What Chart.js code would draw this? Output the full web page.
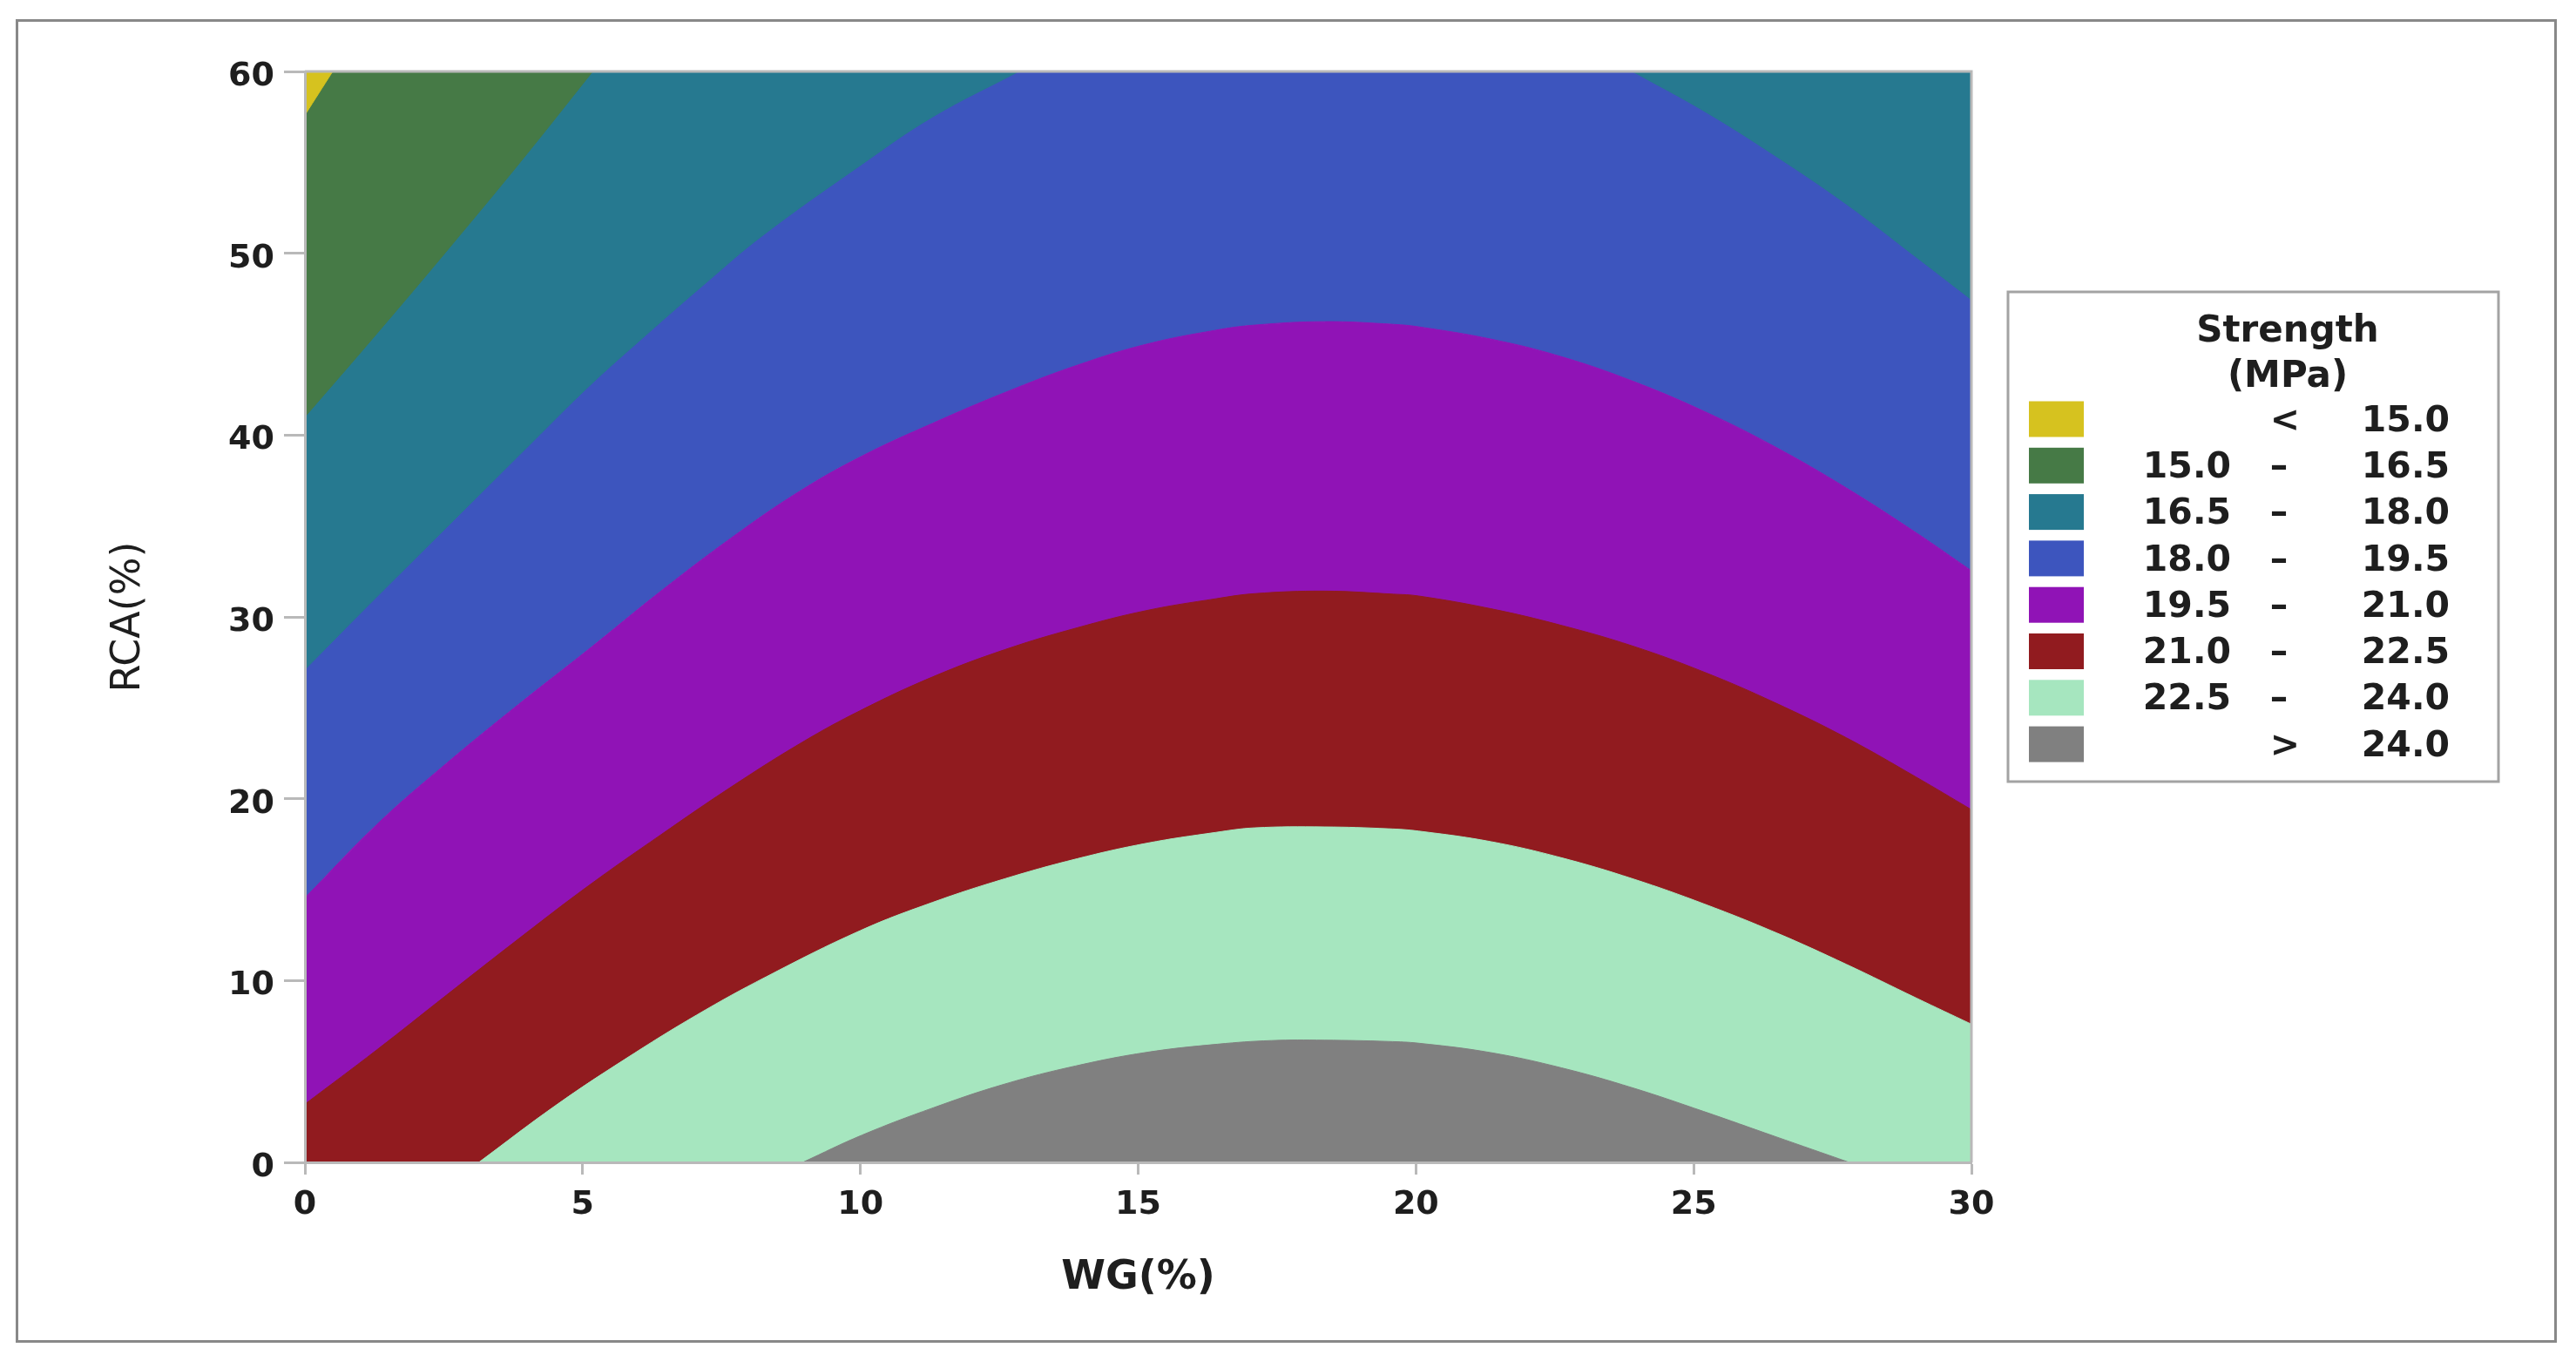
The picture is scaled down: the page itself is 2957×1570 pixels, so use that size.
<!DOCTYPE html>
<html>
<head>
<meta charset="utf-8">
<title>Strength (MPa) - WG / RCA</title>
<script src="https://cdn.jsdelivr.net/npm/chart.js@4.4.1/dist/chart.umd.min.js"></script>
<style>
  html, body { margin: 0; padding: 0; background: #fff; }
  #wrap { position: relative; width: 2957px; height: 1570px; }
  #frame { position: absolute; left: 18px; top: 22px; width: 2917px; height: 1519px;
           box-sizing: border-box; border: 3px solid #888; pointer-events: none; }
</style>
</head>
<body>
<div id="wrap">
  <canvas id="chartContorno"></canvas>
  <div id="frame"></div>
</div>
<script>
// niveles de contorno (MPa) y colores de cada zona, de menor a mayor resistencia
const niveles = [15.0, 16.5, 18.0, 19.5, 21.0, 22.5, 24.0];
const colores = ["#d6c21f", "#467a46", "#267990", "#3d55be", "#9013b6", "#911b1f", "#a6e6bf", "#808080"];

// ejes
const ejeX = { titulo: "WG(%)", min: 0, max: 30, paso: 5 };
const ejeY = { titulo: "RCA(%)", min: 0, max: 60, paso: 10 };

// bordes de contorno: [WG, RCA]
const borde150 = [[0, 57.6], [0.5, 60]];
const borde165 = [[0, 41.0], [1.3, 45.6], [2.6, 50.3], [3.9, 55.1], [5.18, 60]];
const borde180izq = [[0, 27.1], [1.0, 30.2], [2.05, 33.4], [3.07, 36.5], [4.09, 39.6], [5.12, 42.7],
  [6.14, 45.5], [7.23, 48.4], [8.25, 51.0], [10.03, 54.9], [11.3, 57.5], [12.85, 60]];
const borde180der = [[23.9, 60], [25.2, 57.8], [26.45, 55.4], [27.75, 52.7], [29.0, 49.8], [30, 47.45]];
const borde195 = [[0, 14.55], [1.3, 18.6], [2.55, 21.95], [3.85, 25.2], [5.1, 28.2],
  [6.4, 31.4], [7.7, 34.4], [8.9, 36.9], [10.03, 38.85], [11.3, 40.65], [12.6, 42.34],
  [13.9, 43.84], [15.15, 45.0], [16.4, 45.77], [17.1, 46.05], [18.35, 46.24], [19.6, 46.09],
  [20.06, 45.95], [21.35, 45.28], [22.6, 44.33], [23.9, 42.97], [25.2, 41.29], [26.45, 39.38],
  [27.75, 37.09], [29.0, 34.64], [30, 32.54]];
const borde210 = [[0, 3.2], [1.3, 6.2], [2.55, 9.2], [3.85, 12.3], [5.1, 15.2], [6.4, 18.0],
  [7.7, 20.7], [8.95, 23.1], [10.0, 24.85], [11.3, 26.7], [12.6, 28.2], [13.9, 29.4],
  [15.15, 30.35], [16.4, 31.0], [17.1, 31.28], [18.35, 31.42], [19.6, 31.25], [20.05, 31.15],
  [21.35, 30.45], [22.6, 29.55], [23.9, 28.4], [25.2, 26.95], [26.45, 25.3], [27.75, 23.35],
  [29.0, 21.2], [30, 19.4]];
const borde225 = [[3.13, 0], [4.5, 3.1], [5.75, 5.65], [7.05, 8.1], [8.3, 10.2],
  [10.0, 12.75], [11.3, 14.3], [12.6, 15.6], [13.9, 16.7], [15.15, 17.55], [16.4, 18.15],
  [17.1, 18.4], [18.35, 18.45], [19.5, 18.35], [20.05, 18.22], [21.35, 17.64], [22.6, 16.77],
  [23.9, 15.6], [25.2, 14.2], [26.5, 12.61], [27.75, 10.89], [29.0, 9.05], [30, 7.6]];
const borde240 = [[8.96, 0], [10.03, 1.5], [11.31, 3.0], [12.59, 4.3], [13.87, 5.3],
  [15.15, 6.05], [16.43, 6.5], [17.4, 6.7], [18.35, 6.72], [19.5, 6.65], [20.06, 6.55],
  [21.34, 6.04], [22.62, 5.2], [23.9, 4.1], [25.18, 2.8], [26.46, 1.43], [27.8, 0]];

// ===== Leyenda =====

function textoLeyenda(i) {
  if (i === 0) return ["", "<", niveles[0].toFixed(1)];
  if (i === niveles.length) return ["", ">", niveles[i - 1].toFixed(1)];
  return [niveles[i - 1].toFixed(1), "\u2013", niveles[i].toFixed(1)];
}

const leyendaPlugin = {
  id: "leyendaPlugin",
  afterDraw(chart) {
    const ctx = chart.ctx;
    ctx.save();
    ctx.strokeStyle = "#a3a3a3";
    ctx.lineWidth = 3;
    ctx.strokeRect(2305, 335, 563, 562);

    ctx.fillStyle = "#1e1e1e";
    ctx.textAlign = "center";
    ctx.textBaseline = "middle";
    ctx.font = "bold 42px 'DejaVu Sans'";
    ctx.fillText("Strength", 2626, 381);
    ctx.fillText("(MPa)", 2626, 433);

    ctx.font = "bold 41px 'DejaVu Sans'";
    colores.forEach((color, i) => {
      const y = 481 + i * 53.3;
      ctx.fillStyle = color;
      ctx.fillRect(2329, y - 20.5, 63, 41);
      const [desde, signo, hasta] = textoLeyenda(i);
      ctx.fillStyle = "#1e1e1e";
      ctx.textAlign = "right";
      if (desde) ctx.fillText(desde, 2561, y + 3);
      ctx.fillText(hasta, 2812, y + 3);
      ctx.textAlign = "center";
      ctx.fillText(signo, desde ? 2616 : 2623, y + 3);
    });
    ctx.restore();
  }
};

// borde superior y derecho del area del grafico
const marcoPlugin = {
  id: "marcoPlugin",
  afterDatasetsDraw(chart) {
    const { ctx, chartArea: a } = chart;
    ctx.save();
    ctx.strokeStyle = "#b9b9b9";
    ctx.lineWidth = 3;
    ctx.beginPath();
    ctx.moveTo(a.left, a.top);
    ctx.lineTo(a.right, a.top);
    ctx.lineTo(a.right, a.bottom);
    ctx.stroke();
    ctx.restore();
  }
};

// ===== Grafico =====

function crearDataset(borde, zona, relleno) {
  const [d, s, h] = textoLeyenda(zona);
  return {
    label: (d + " " + s + " " + h).trim(),
    data: borde.map(([x, y]) => ({ x, y })),
    fill: relleno,
    backgroundColor: colores[zona],
    borderColor: colores[zona],
    borderWidth: 1,
    pointRadius: 0,
    tension: 0.4
  };
}

function crearGraficoContorno() {
  // el primer dataset se pinta encima; zonas altas rellenan hacia arriba, bajas hacia abajo
  const datasets = [
    crearDataset(borde150, 0, "end"),
    crearDataset(borde165, 1, "end"),
    crearDataset(borde180der, 2, "end"),
    crearDataset(borde180izq, 2, "end"),
    crearDataset(borde240, 7, "start"),
    crearDataset(borde225, 6, "start"),
    crearDataset(borde210, 5, "start"),
    crearDataset(borde195, 4, "start"),
    crearDataset(borde195, 3, "end")
  ];

  Chart.defaults.font.family = "'DejaVu Sans', sans-serif";
  Chart.defaults.font.weight = "bold";
  Chart.defaults.color = "#1e1e1e";

  new Chart(document.getElementById("chartContorno"), {
    type: "line",
    data: { datasets },
    plugins: [marcoPlugin, leyendaPlugin],
    options: {
      responsive: true,
      maintainAspectRatio: false,
      animation: false,
      events: [],
      layout: { padding: { left: 100, top: 82, right: 694, bottom: 50 } },
      plugins: { legend: { display: false }, tooltip: { enabled: false } },
      scales: {
        x: {
          type: "linear",
          min: ejeX.min,
          max: ejeX.max,
          afterFit: (scale) => { scale.height = 186; },
          ticks: { stepSize: ejeX.paso, padding: 12, maxRotation: 0, font: { size: 38, weight: "bold" } },
          grid: { drawOnChartArea: false, tickLength: 14, tickColor: "#b9b9b9", tickWidth: 3, z: 1 },
          border: { color: "#b9b9b9", width: 3, z: 1 },
          title: { display: true, text: ejeX.titulo, font: { size: 46, weight: "bold" }, padding: { top: 0, bottom: 25 } }
        },
        y: {
          min: ejeY.min,
          max: ejeY.max,
          afterFit: (scale) => { scale.width = 250; },
          ticks: { stepSize: ejeY.paso, padding: 11, labelOffset: 6, font: { size: 38, weight: "bold" } },
          grid: { drawOnChartArea: false, tickLength: 24, tickColor: "#b9b9b9", tickWidth: 3, z: 1 },
          border: { color: "#b9b9b9", width: 3, z: 1 },
          title: { display: true, text: ejeY.titulo, font: { size: 46, weight: "normal" }, padding: { top: 20, bottom: 0 } }
        }
      }
    }
  });
}

crearGraficoContorno();
</script>
</body>
</html>
